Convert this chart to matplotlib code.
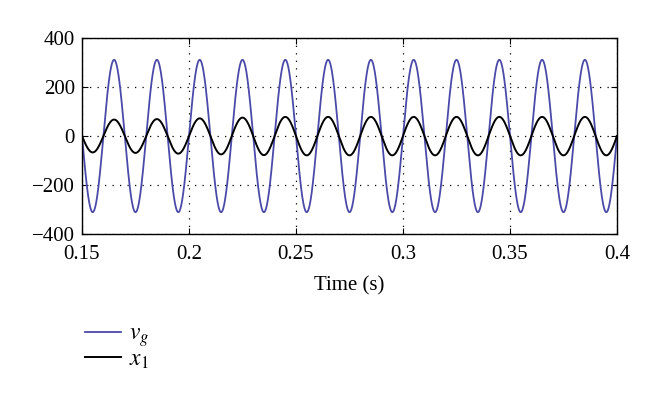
import numpy as np
import matplotlib
matplotlib.use("Agg")
import matplotlib.pyplot as plt

plt.rcParams['font.family'] = ['Liberation Serif', 'DejaVu Serif']
plt.rcParams['mathtext.fontset'] = 'stix'

# time window and grid frequency (50 Hz, 0.15-0.4 s)
t_start, t_end = 0.15, 0.4
freq = 50.0
vg_peak = 311.0

# x1 half-cycle peak values (25 half cycles)
x1_half_peaks = [-67, 67, -69, 69, -72, 72, -75, 75, -78, 78, -79, 78,
                 -79, 78, -79, 78, -79, 78, -79, 78, -79, 78, -79, 78, -79]

xticks = [0.15, 0.2, 0.25, 0.3, 0.35, 0.4]
xticklabels = ['0.15', '0.2', '0.25', '0.3', '0.35', '0.4']
yticks = [-400, -200, 0, 200, 400]
yticklabels = ['\u2212400', '\u2212200', '0', '200', '400']

t = np.linspace(t_start, t_end, 5000)
phase = 2 * np.pi * freq * t
vg = vg_peak * np.sin(phase)

# scale each half cycle by its own peak
half_idx = np.clip(((t - t_start) * freq * 2).astype(int), 0, len(x1_half_peaks) - 1)
x1 = np.abs(np.sin(phase)) * np.array(x1_half_peaks)[half_idx]

fig = plt.figure(figsize=(6.6, 3.98), dpi=100)
ax = fig.add_axes([82 / 660, 1 - 234 / 398, 535 / 660, 196 / 398])

l1, = ax.plot(t, vg, color='#4b4aa8', lw=1.3, label=r'$v_g$')
l2, = ax.plot(t, x1, color='black', lw=1.4, label=r'$x_1$')

ax.set_xlim(t_start, t_end)
ax.set_ylim(-400, 400)
ax.set_xticks(xticks)
ax.set_xticklabels(xticklabels)
ax.set_yticks(yticks)
ax.set_yticklabels(yticklabels)
ax.tick_params(direction='in', top=True, right=True, labelsize=15, length=4)
ax.tick_params(axis='x', pad=8)
ax.tick_params(axis='y', pad=5)
ax.grid(True, linestyle=(0, (1, 5)), color='black', linewidth=0.9)
for s in ax.spines.values():
    s.set_linewidth(1.0)
ax.set_xlabel('Time (s)', fontsize=15, labelpad=9)

fig.legend(handles=[l1, l2], loc='upper left', bbox_to_anchor=(64 / 660, 1 - 302 / 398),
           frameon=False, fontsize=17, handlelength=1.5, labelspacing=0.0,
           handletextpad=0.35)

fig.savefig('out.png', dpi=100)
